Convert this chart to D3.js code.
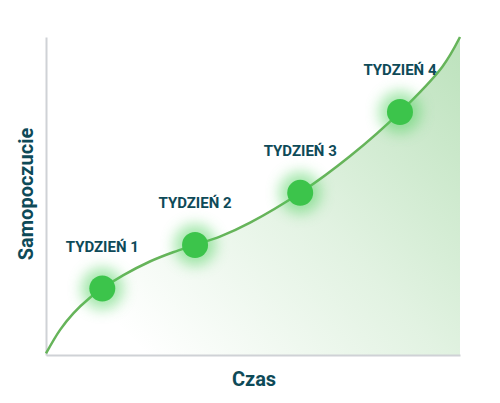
<!DOCTYPE html>
<html><head><meta charset="utf-8">
<script src="https://cdn.jsdelivr.net/npm/d3@7"></script>
<style>html,body{margin:0;padding:0;background:#fff;}svg{display:block;}</style>
</head><body>
<svg id="chart" width="500" height="403"></svg>
<script>
// Curve shape (time 0..100, wellbeing 0..100)
const curveX = [0, 3.4, 6.6, 10.6, 13.6, 18.7, 25.1, 30.7, 36, 42, 49.3, 61.4, 73.4, 85.5, 95.7, 100];
const curveY = [0.5, 7.9, 13.1, 18.0, 20.9, 25.1, 29.4, 32.3, 34.6, 37.2, 41.6, 51, 62.5, 76.4, 90.6, 100];
// Milestones
const weekLabels = ["TYDZIEŃ 1", "TYDZIEŃ 2", "TYDZIEŃ 3", "TYDZIEŃ 4"];
const weekX = [13.6, 36, 61.4, 85.5];
const weekY = [20.9, 34.6, 51, 76.4];
const xTitle = "Czas";
const yTitle = "Samopoczucie";

const svg = d3.select("#chart");
const x = d3.scaleLinear().domain([0, 100]).range([46, 460]);
const y = d3.scaleLinear().domain([0, 100]).range([355, 37]);
const curve = curveX.map((v, i) => [v, curveY[i]]);

const defs = svg.append("defs");
const grad = defs.append("linearGradient").attr("id", "fillGrad")
  .attr("gradientUnits", "userSpaceOnUse")
  .attr("x1", 150).attr("y1", 360).attr("x2", 470).attr("y2", 60);
grad.append("stop").attr("offset", 0).attr("stop-color", "#5cb85c").attr("stop-opacity", 0);
grad.append("stop").attr("offset", 0.5).attr("stop-color", "#5cb85c").attr("stop-opacity", 0.18);
grad.append("stop").attr("offset", 1).attr("stop-color", "#5cb85c").attr("stop-opacity", 0.4);
const blur = defs.append("filter").attr("id", "glow")
  .attr("x", "-100%").attr("y", "-100%").attr("width", "300%").attr("height", "300%");
blur.append("feGaussianBlur").attr("stdDeviation", 7);

const crv = d3.curveCatmullRom.alpha(0.5);
// area
svg.append("path").datum(curve)
  .attr("fill", "url(#fillGrad)")
  .attr("d", d3.area().x(d => x(d[0])).y0(y(0)).y1(d => y(d[1])).curve(crv));

// axes (no ticks)
svg.append("g").attr("transform", `translate(0,${y(0)})`)
  .call(d3.axisBottom(x).tickValues([]).tickSizeOuter(0));
svg.append("g").attr("transform", `translate(${x(0)},0)`)
  .call(d3.axisLeft(y).tickValues([]).tickSizeOuter(0));
svg.selectAll(".domain").attr("stroke", "#cfd2d6").attr("stroke-width", 2);

// line
svg.append("path").datum(curve)
  .attr("fill", "none").attr("stroke", "#66b45a").attr("stroke-width", 2.5)
  .attr("d", d3.line().x(d => x(d[0])).y(d => y(d[1])).curve(crv));

// glows + points
const pts = weekX.map((v, i) => ({x: v, y: weekY[i], label: weekLabels[i]}));
svg.selectAll("circle.glow").data(pts).join("circle").attr("class", "glow")
  .attr("cx", d => x(d.x)).attr("cy", d => y(d.y)).attr("r", 21)
  .attr("fill", "#4cd05a").attr("opacity", 0.5).attr("filter", "url(#glow)");
svg.selectAll("circle.pt").data(pts).join("circle").attr("class", "pt")
  .attr("cx", d => x(d.x)).attr("cy", d => y(d.y)).attr("r", 13)
  .attr("fill", "#3cc44b");

svg.selectAll("text.lbl").data(pts).join("text").attr("class", "lbl")
  .attr("x", d => x(d.x)).attr("y", d => y(d.y) - 37)
  .attr("text-anchor", "middle")
  .attr("font-family", "Roboto, 'Open Sans', sans-serif").attr("font-weight", 700)
  .attr("font-size", 15).attr("fill", "#0e4a58")
  .text(d => d.label);

svg.append("text").attr("x", 254).attr("y", 386).attr("text-anchor", "middle")
  .attr("font-family", "Roboto, sans-serif").attr("font-weight", 700)
  .attr("font-size", 20).attr("fill", "#0e4a58").text(xTitle);
svg.append("text").attr("transform", "translate(33,194) rotate(-90)").attr("text-anchor", "middle")
  .attr("font-family", "Roboto, sans-serif").attr("font-weight", 700)
  .attr("font-size", 20).attr("fill", "#0e4a58").text(yTitle);
</script>
</body></html>
